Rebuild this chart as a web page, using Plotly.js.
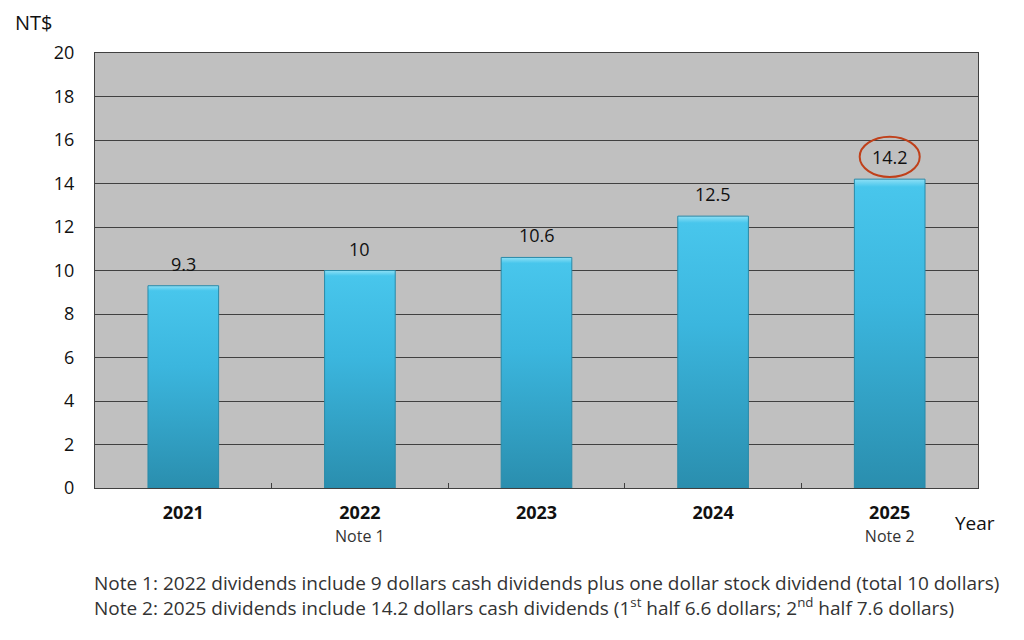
<!DOCTYPE html>
<html>
<head>
<meta charset="utf-8">
<script src="https://cdn.plot.ly/plotly-3.0.1.min.js"></script>
<style>
html,body{margin:0;padding:0;background:#fff;}
#chart{width:1024px;height:640px;}
</style>
</head>
<body>
<div id="chart"></div>
<script>
const years = ["2021", "2022", "2023", "2024", "2025"];
const yearNotes = ["", "Note 1", "", "", "Note 2"];
const dividends = [9.3, 10, 10.6, 12.5, 14.2];
const highlightIndex = 4;
const yTicks = [0, 2, 4, 6, 8, 10, 12, 14, 16, 18, 20];
const footnotes = [
  "Note 1: 2022 dividends include 9 dollars cash dividends plus one dollar stock dividend (total 10 dollars)",
  "Note 2: 2025 dividends include 14.2 dollars cash dividends (1<sup>st</sup> half 6.6 dollars; 2<sup>nd</sup> half 7.6 dollars)"
];

const FONT = "Open Sans, Noto Sans, sans-serif";

const tickText = years.map((y, i) => yearNotes[i]
  ? "<b>" + y + "</b><br><span style='font-size:16px;color:#333'>" + yearNotes[i] + "</span>"
  : "<b>" + y + "</b>");

const trace = {
  type: "bar",
  x: years,
  y: dividends,
  width: 0.4,
  marker: {color: "#38b4dc", line: {color: "#2a8aa8", width: 1}},
  hoverinfo: "skip"
};

const annotations = years.map((y, i) => ({
  x: i, y: dividends[i], xref: "x", yref: "y",
  text: String(dividends[i]), showarrow: false,
  yshift: 22, font: {family: FONT, size: 18, color: "#111"}
}));
annotations.push({
  xref: "paper", yref: "paper", x: -0.093, y: 1.035, xanchor: "left", yanchor: "bottom",
  text: "NT$", showarrow: false, font: {family: FONT, size: 20, color: "#111"}
});
annotations.push({
  xref: "paper", yref: "paper", x: 0.972, y: -0.045, xanchor: "left", yanchor: "top",
  text: "Year", showarrow: false, font: {family: FONT, size: 19, color: "#111"}
});
annotations.push({
  xref: "paper", yref: "paper", x: -0.003, y: -0.185, xanchor: "left", yanchor: "top",
  text: footnotes.join("<br>"), showarrow: false, align: "left",
  font: {family: FONT, size: 19, color: "#333"}
});

const hv = dividends[highlightIndex];
const shapes = [{
  type: "circle", xref: "x", yref: "y",
  x0: highlightIndex - 0.17, x1: highlightIndex + 0.17,
  y0: hv + 0.1, y1: hv + 1.95,
  line: {color: "#c0401a", width: 2}
}];

const layout = {
  width: 1024, height: 640,
  margin: {l: 95, r: 46, t: 53, b: 152},
  paper_bgcolor: "#ffffff",
  plot_bgcolor: "#c0c0c0",
  showlegend: false,
  xaxis: {
    type: "category",
    tickvals: years, ticktext: tickText,
    tickson: "boundaries", ticks: "inside", ticklen: 5, tickcolor: "#404040",
    showline: true, linecolor: "#404040", linewidth: 1, mirror: true,
    showgrid: false,
    ticklabelstandoff: 8,
    tickfont: {family: FONT, size: 18, color: "#111"},
    range: [-0.5, 4.5]
  },
  yaxis: {
    range: [0, 20], tickvals: yTicks,
    showgrid: true, gridcolor: "#404040", gridwidth: 1,
    showline: true, linecolor: "#404040", linewidth: 1, mirror: true,
    ticks: "", ticklabelstandoff: 16,
    zeroline: false,
    tickfont: {family: FONT, size: 18, color: "#111"}
  },
  annotations: annotations,
  shapes: shapes
};

Plotly.newPlot("chart", [trace], layout, {displayModeBar: false, staticPlot: true}).then(gd => {
  const svg = gd.querySelector("svg.main-svg");
  const ns = "http://www.w3.org/2000/svg";
  let defs = svg.querySelector("defs");
  if (!defs) { defs = document.createElementNS(ns, "defs"); svg.insertBefore(defs, svg.firstChild); }
  const lg = document.createElementNS(ns, "linearGradient");
  lg.setAttribute("id", "barGrad");
  lg.setAttribute("x1", "0"); lg.setAttribute("y1", "0");
  lg.setAttribute("x2", "0"); lg.setAttribute("y2", "1");
  [["0", "#8ee0f6"], ["0.025", "#48c6ec"], ["0.4", "#3bb6de"], ["1", "#2a8eae"]].forEach(s => {
    const st = document.createElementNS(ns, "stop");
    st.setAttribute("offset", s[0]); st.setAttribute("stop-color", s[1]);
    lg.appendChild(st);
  });
  defs.appendChild(lg);
  gd.querySelectorAll(".bars .point path").forEach(p => {
    p.style.fill = "url(#barGrad)";
  });
});
</script>
</body>
</html>
